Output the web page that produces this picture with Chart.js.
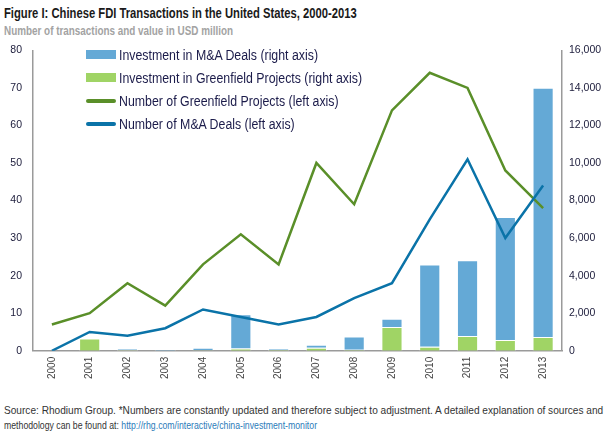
<!DOCTYPE html>
<html>
<head>
<meta charset="utf-8">
<script src="https://cdn.jsdelivr.net/npm/chart.js@4.4.1/dist/chart.umd.min.js"></script>
<style>
  body { margin: 0; width: 610px; height: 436px; background: #fff; position: relative; overflow: hidden;
         font-family: "Liberation Sans", Arial, sans-serif; }
  .fit { position: absolute; left: 4px; white-space: nowrap; transform-origin: 0 0; }
  #title { top: 4px; font-size: 15.5px; font-weight: bold; color: #1a1a1a; }
  #subtitle { top: 24px; font-size: 12px; font-weight: bold; color: #a3a3a3; }
  #wrap { position: absolute; left: 0; top: 33px; width: 610px; height: 361px; }
  #legend { position: absolute; left: 86px; top: 43px; font-size: 14px; color: #1b1b4a; }
  .item { height: 23px; display: flex; align-items: center; white-space: nowrap; }
  .sw { width: 30px; margin-right: 3px; flex: none; }
  .lt { display: inline-block; transform-origin: 0 50%; }
  .foot { font-size: 10.5px; color: #333; }
  .foot a { color: #2b7bb9; text-decoration: none; }
</style>
</head>
<body>
<div id="title" class="fit" data-w="353">Figure I: Chinese FDI Transactions in the United States, 2000-2013</div>
<div id="subtitle" class="fit" data-w="229">Number of transactions and value in USD million</div>
<div id="wrap"><canvas id="chart"></canvas></div>
<div id="legend"></div>
<div class="fit foot" style="top:404px" data-w="599">Source: Rhodium Group. *Numbers are constantly updated and therefore subject to adjustment. A detailed explanation of sources and</div>
<div class="fit foot" style="top:419px" data-w="313">methodology can be found at: <a>http://rhg.com/interactive/china-investment-monitor</a></div>
<script>
// years
const years = ["2000", "2001", "2002", "2003", "2004", "2005", "2006", "2007", "2008", "2009", "2010", "2011", "2012", "2013"];

// investment value, USD million (right axis)
const maInvestment = [0, 0, 60, 50, 130, 1830, 100, 160, 710, 440, 4380, 4040, 6550, 13270];
const greenfieldInvestment = [0, 650, 40, 0, 30, 120, 50, 160, 50, 1270, 210, 780, 570, 730];

// number of transactions (left axis)
const greenfieldCount = [7, 10, 18, 12, 23, 31, 23, 50, 39, 64, 74, 70, 48, 38];
const maCount = [0, 5, 4, 6, 11, 9, 7, 9, 14, 18, 35, 51, 30, 44];

const BLUE_BAR = "#64a9d6";
const GREEN_BAR = "#a0d465";
const GREEN_LINE = "#5a8f29";
const BLUE_LINE = "#0a73a8";
const TICK_COLOR = "#1b1b3a";
const AXIS_COLOR = "#9a9a9a";

const legendItems = [
  { label: "Investment in M&A Deals (right axis)", color: BLUE_BAR, type: "bar" },
  { label: "Investment in Greenfield Projects (right axis)", color: GREEN_BAR, type: "bar" },
  { label: "Number of Greenfield Projects (left axis)", color: GREEN_LINE, type: "line" },
  { label: "Number of M&A Deals (left axis)", color: BLUE_LINE, type: "line" }
];

// html legend inside the plot
const legendEl = document.getElementById("legend");
legendItems.forEach(it => {
  const row = document.createElement("div");
  row.className = "item";
  const sw = document.createElement("span");
  sw.className = "sw";
  sw.style.background = it.color;
  sw.style.height = it.type === "bar" ? "9px" : "4px";
  if (it.type === "line") sw.style.borderRadius = "2px";
  const txt = document.createElement("span");
  txt.className = "lt";
  txt.textContent = it.label;
  row.appendChild(sw);
  row.appendChild(txt);
  legendEl.appendChild(row);
});

// the original uses a condensed face, squeeze the text to the same widths
document.querySelectorAll(".fit").forEach(el => {
  const w = +el.dataset.w;
  el.style.transform = "scaleX(" + (w / el.scrollWidth) + ")";
});
const lts = document.querySelectorAll(".lt");
const legScale = 243 / lts[1].getBoundingClientRect().width;
lts.forEach(el => { el.style.transform = "scaleX(" + legScale + ")"; });

const tickFont = { family: "'Liberation Sans', Arial, sans-serif", size: 10.5 };

new Chart(document.getElementById("chart"), {
  data: {
    labels: years,
    datasets: [
      {
        type: "bar", label: "Investment in Greenfield Projects (right axis)", data: greenfieldInvestment,
        backgroundColor: GREEN_BAR, borderColor: "rgba(255,255,255,0.5)", borderWidth: 1,
        yAxisID: "y1", order: 2, barPercentage: 0.56, categoryPercentage: 1
      },
      {
        type: "bar", label: "Investment in M&A Deals (right axis)", data: maInvestment,
        backgroundColor: BLUE_BAR, borderColor: "rgba(255,255,255,0.5)", borderWidth: 1,
        yAxisID: "y1", order: 2, barPercentage: 0.56, categoryPercentage: 1
      },
      {
        type: "line", label: "Number of Greenfield Projects (left axis)", data: greenfieldCount,
        borderColor: GREEN_LINE, borderWidth: 2.5, pointRadius: 0, tension: 0,
        yAxisID: "y", order: 1
      },
      {
        type: "line", label: "Number of M&A Deals (left axis)", data: maCount,
        borderColor: BLUE_LINE, borderWidth: 2.5, pointRadius: 0, tension: 0,
        yAxisID: "y", order: 0
      }
    ]
  },
  options: {
    responsive: true,
    maintainAspectRatio: false,
    animation: false,
    layout: { padding: { left: 2, right: 0, top: 1, bottom: 9 } },
    plugins: { legend: { display: false }, tooltip: { enabled: false } },
    scales: {
      x: {
        stacked: true,
        grid: { display: false, drawTicks: false },
        border: { display: true, color: AXIS_COLOR, width: 1.5 },
        ticks: { color: "#444", font: { ...tickFont, size: 10 }, maxRotation: 90, minRotation: 90, padding: 6 },
        afterFit: s => { s.paddingLeft = 0; s.paddingRight = 0; }
      },
      y: {
        position: "left", min: 0, max: 80,
        grid: { display: false, drawTicks: false },
        border: { display: true, color: AXIS_COLOR, width: 1.5 },
        ticks: { stepSize: 10, color: TICK_COLOR, font: tickFont, padding: 11 },
        afterFit: s => { s.width = 31; }
      },
      y1: {
        position: "right", min: 0, max: 16000, stacked: true,
        grid: { display: false, drawTicks: false },
        border: { display: true, color: AXIS_COLOR, width: 1.5 },
        ticks: {
          stepSize: 2000, color: TICK_COLOR, font: tickFont, padding: 7,
          callback: v => v.toLocaleString("en-US")
        },
        afterFit: s => { s.width = 48; }
      }
    }
  }
});
</script>
</body>
</html>
